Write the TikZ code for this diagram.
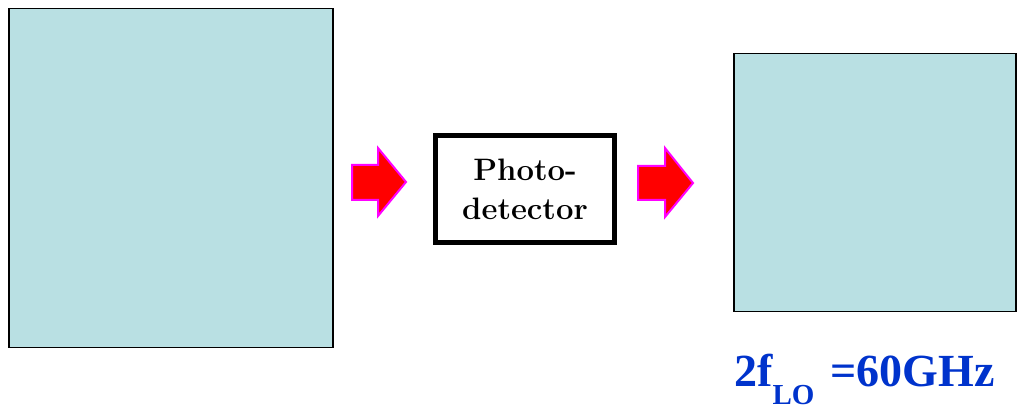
\documentclass[tikz,border=0pt]{standalone}
\usepackage{fontspec}
\newfontfamily\tnr{Liberation Serif}
\definecolor{sqfill}{RGB}{185,224,227}
\definecolor{labblue}{RGB}{0,51,204}
\definecolor{arrred}{RGB}{255,0,0}
\definecolor{arrmag}{RGB}{255,0,255}
\begin{document}
\begin{tikzpicture}[x=1pt,y=-1pt,
  sq/.style={draw=black,line width=1.5pt,fill=sqfill,inner sep=0pt,anchor=north west},
  bigarrow/.style={draw=arrmag,line width=2pt,fill=arrred,line join=miter},
  pdbox/.style={draw=black,line width=5pt,fill=white,inner sep=0pt,align=center,
     font=\fontsize{31}{39}\selectfont\bfseries}]
\useasboundingbox (0,0) rectangle (1018,411);
\node[sq,minimum width=324pt,minimum height=339pt] (left) at (8,8) {};
\node[sq,minimum width=282pt,minimum height=258pt] (right) at (733,53) {};
\node[pdbox,minimum width=179pt,minimum height=107pt] (pd) at (525,189) {Photo-\\detector};
\draw[bigarrow] (352,165) -- (378,165) -- (378,148) -- (406,182) -- (378,216) -- (378,200) -- (352,200) -- cycle;
\draw[bigarrow] (638,166) -- (665,166) -- (665,148) -- (693,183) -- (665,217) -- (665,200) -- (638,200) -- cycle;
\node[anchor=base west,inner sep=0pt,text=labblue,font=\tnr\bfseries] (lab) at (734,387)
  {\fontsize{46}{50}\selectfont 2f\raisebox{-18pt}{\fontsize{29}{30}\selectfont LO}\hspace{16pt}=60GHz};
\end{tikzpicture}
\end{document}
